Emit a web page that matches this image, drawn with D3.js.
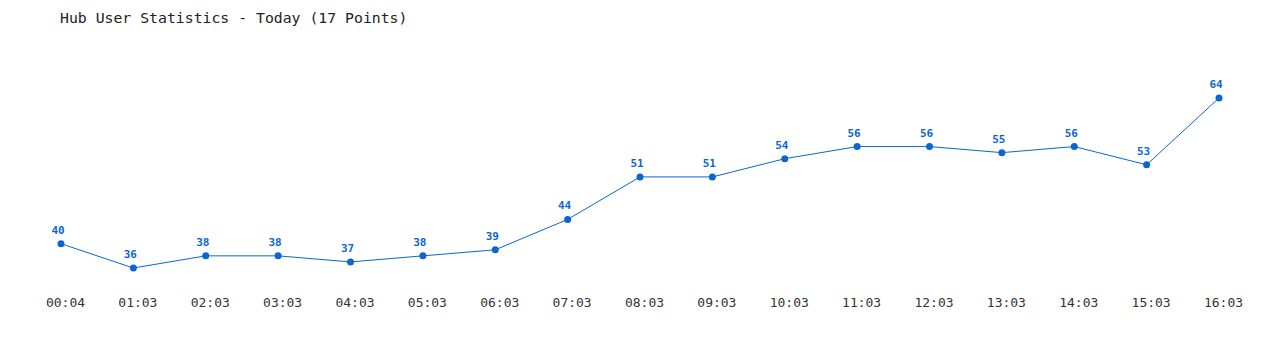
<!DOCTYPE html>
<html><head><meta charset="utf-8">
<script src="https://cdn.jsdelivr.net/npm/d3@7"></script>
<style>body{margin:0;background:#fff}svg{display:block}</style>
</head><body>
<svg id="c" width="1280" height="350"></svg>
<script>
const title = "Hub User Statistics - Today (17 Points)";
const times = ["00:04","01:03","02:03","03:03","04:03","05:03","06:03","07:03","08:03","09:03","10:03","11:03","12:03","13:03","14:03","15:03","16:03"];
const users = [40,36,38,38,37,38,39,44,51,51,54,56,56,55,56,53,64];

const svg = d3.select("#c");
const font = "'DejaVu Sans Mono', monospace";
const color = "#0a66d1";

const x = d3.scalePoint().domain(times).range([61,1219]);
const y = d3.scaleLinear().domain([36,64]).range([268,98]);

svg.append("text").attr("x",60).attr("y",23).text(title)
  .attr("font-family",font).attr("font-size",14.8).attr("fill","#222");

const xAxis = svg.append("g").attr("transform","translate(4,290)")
  .call(d3.axisBottom(x).tickSize(0).tickPadding(8));
xAxis.select(".domain").remove();
xAxis.selectAll("text").attr("font-family",font).attr("font-size",13).attr("fill","#333");

svg.append("path").datum(users)
  .attr("d", d3.line().x((d,i)=>x(times[i])).y(d=>y(d)))
  .attr("fill","none").attr("stroke",color).attr("stroke-width",1);

svg.selectAll("circle.p").data(users).join("circle")
  .attr("cx",(d,i)=>x(times[i])).attr("cy",d=>y(d)).attr("r",3.5).attr("fill",color);

svg.selectAll("text.v").data(users).join("text")
  .attr("x",(d,i)=>x(times[i])-3).attr("y",d=>y(d)-10)
  .attr("text-anchor","middle").text(d=>d)
  .attr("font-family",font).attr("font-size",11).attr("font-weight","bold").attr("fill",color);
</script>
</body></html>
